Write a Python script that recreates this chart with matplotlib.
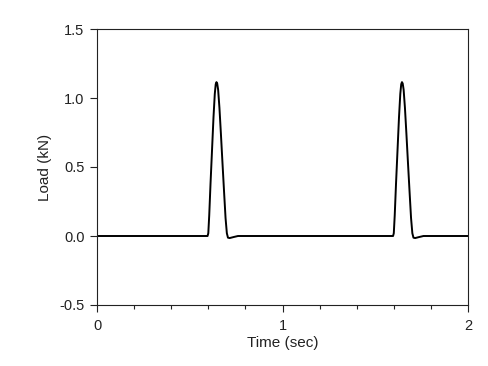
import matplotlib
matplotlib.use("Agg")
import matplotlib.pyplot as plt
from matplotlib.ticker import MultipleLocator

plt.rcParams['font.family'] = ['Liberation Sans', 'DejaVu Sans']

# one load pulse (time in s, load in kN)
pulse_t = [0.0, 0.596, 0.600, 0.605, 0.612, 0.620, 0.628, 0.635, 0.640, 0.644,
           0.648, 0.653, 0.660, 0.668, 0.676, 0.685, 0.693, 0.700, 0.706, 0.715,
           0.735, 0.760]
pulse_load = [0.0, 0.0, 0.02, 0.15, 0.38, 0.62, 0.86, 1.03, 1.10, 1.115,
              1.105, 1.06, 0.93, 0.74, 0.54, 0.32, 0.13, 0.02, -0.012, -0.015,
              -0.008, 0.0]
second_start = 1.0  # second pulse repeats one second later

time = pulse_t + [second_start + t for t in pulse_t[1:]] + [2.0]
load = pulse_load + pulse_load[1:] + [0.0]

fig = plt.figure(figsize=(4.88, 3.66), dpi=100)
ax = fig.add_axes([97 / 488, 61 / 366, 371 / 488, 276 / 366])
ax.plot(time, load, color='black', lw=1.4)

ax.set_xlim(0, 2)
ax.set_ylim(-0.5, 1.5)
ax.xaxis.set_major_locator(MultipleLocator(1))
ax.xaxis.set_minor_locator(MultipleLocator(0.2))
ax.yaxis.set_major_locator(MultipleLocator(0.5))
ax.yaxis.set_major_formatter(plt.FormatStrFormatter('%.1f'))
ax.tick_params(axis='both', which='major', direction='out', length=5, width=0.8,
               labelsize=10.5, colors='#222222', labelcolor='#222222')
ax.tick_params(axis='x', which='major', pad=5)
ax.tick_params(axis='y', which='major', pad=4)
ax.tick_params(axis='x', which='minor', direction='out', length=3, width=0.8,
               colors='#222222')
for s in ax.spines.values():
    s.set_linewidth(0.8)
    s.set_color('#222222')

ax.set_xlabel('Time (sec)', fontsize=11, labelpad=2, color='#222222')
ax.set_ylabel('Load (kN)', fontsize=11, labelpad=5, color='#222222')

fig.savefig('out.png', dpi=100)
